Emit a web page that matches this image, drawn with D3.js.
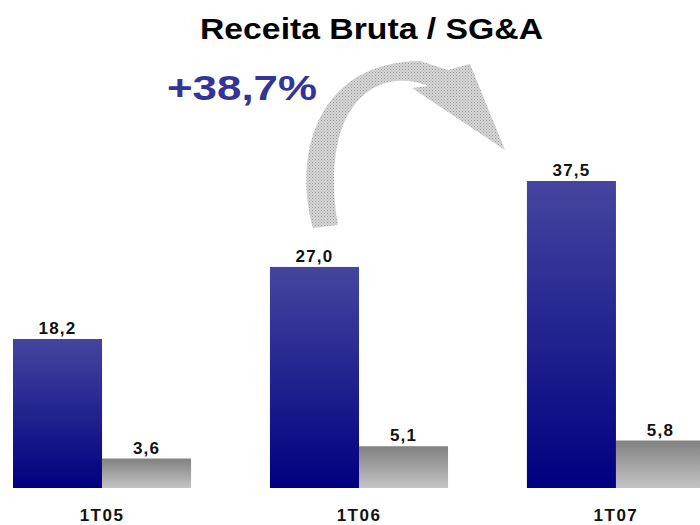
<!DOCTYPE html>
<html>
<head>
<meta charset="utf-8">
<script src="https://cdn.jsdelivr.net/npm/d3@7"></script>
<style>
  body { margin: 0; background: #fff; }
  text { font-family: "Liberation Sans", Arial, sans-serif; font-weight: bold; }
</style>
</head>
<body>
<div id="chart-area"></div>
<script>
// data
var categories = ["1T05", "1T06", "1T07"];
var receita = [18.2, 27.0, 37.5];
var sga = [3.6, 5.1, 5.8];
var growthLabel = "+38,7%";
var title = "Receita Bruta / SG&A";

var fmt = (v) => v.toFixed(1).replace(".", ",");

var svg = d3.select("#chart-area").append("svg")
     .attr("width", 700)
     .attr("height", 525);

var defs = svg.append("defs");

var gBlue = defs.append("linearGradient").attr("id", "blue")
     .attr("x1", 0).attr("y1", 0).attr("x2", 0).attr("y2", 1);
gBlue.append("stop").attr("offset", "0%").attr("stop-color", "#45459f");
gBlue.append("stop").attr("offset", "100%").attr("stop-color", "#000080");

var gGray = defs.append("linearGradient").attr("id", "gray")
     .attr("x1", 0).attr("y1", 0).attr("x2", 0).attr("y2", 1);
gGray.append("stop").attr("offset", "0%").attr("stop-color", "#808080");
gGray.append("stop").attr("offset", "100%").attr("stop-color", "#c4c4c4");

var pat = defs.append("pattern").attr("id", "dots")
     .attr("width", 3).attr("height", 3).attr("patternUnits", "userSpaceOnUse");
pat.append("rect").attr("width", 3).attr("height", 3).attr("fill", "#d6d6d6");
pat.append("rect").attr("width", 1).attr("height", 1).attr("fill", "#9a9a9a");
pat.append("rect").attr("x", 1.5).attr("y", 1.5).attr("width", 1).attr("height", 1).attr("fill", "#a8a8a8");

var baseline = 488;

var x0 = d3.scaleBand()
     .domain(categories)
     .range([13, 705])
     .paddingInner(0.307)
     .paddingOuter(0);

var x1 = d3.scaleBand()
     .domain(["receita", "sga"])
     .range([0, x0.bandwidth()]);

var y = d3.scaleLinear()
     .domain([0, 37.5])
     .range([baseline, 181]);

var rows = categories.map((c, i) => ({ cat: c, receita: receita[i], sga: sga[i] }));

var groups = svg.selectAll("g.grp")
     .data(rows)
     .enter()
     .append("g")
     .attr("class", "grp")
     .attr("transform", (d) => "translate(" + x0(d.cat) + ",0)");

var bars = groups.selectAll("rect")
     .data((d) => [{ key: "receita", v: d.receita }, { key: "sga", v: d.sga }])
     .enter();

bars.append("rect")
     .attr("x", (d) => x1(d.key))
     .attr("y", (d) => y(d.v))
     .attr("width", x1.bandwidth())
     .attr("height", (d) => baseline - y(d.v))
     .attr("fill", (d) => d.key == "receita" ? "url(#blue)" : "url(#gray)");

bars.append("text")
     .attr("x", (d) => x1(d.key) + x1.bandwidth() / 2)
     .attr("y", (d) => y(d.v) - 5)
     .attr("text-anchor", "middle")
     .attr("font-size", 17)
     .attr("letter-spacing", 1.2)
     .attr("fill", "#111")
     .text((d) => fmt(d.v));

// category labels
svg.selectAll("text.cat")
     .data(categories)
     .enter()
     .append("text")
     .attr("class", "cat")
     .attr("x", (d) => x0(d) + x0.bandwidth() / 2)
     .attr("y", 521)
     .attr("text-anchor", "middle")
     .attr("font-size", 17)
     .attr("letter-spacing", 1.5)
     .attr("fill", "#111")
     .text((d) => d);

// curved arrow
svg.append("path")
     .attr("d", "M 313,228 C 292,150 320,62 420,61 L 448,70 L 470,64 L 505,150 L 412,88 L 428,86 C 380,66 318,100 338,225 Z")
     .attr("fill", "url(#dots)");

// title
svg.append("text")
     .attr("x", 200)
     .attr("y", 39)
     .attr("font-size", 29)
     .attr("textLength", 343)
     .attr("lengthAdjust", "spacingAndGlyphs")
     .attr("fill", "#000")
     .text(title);

svg.append("text")
     .attr("x", 167)
     .attr("y", 100)
     .attr("font-size", 35)
     .attr("textLength", 150)
     .attr("lengthAdjust", "spacingAndGlyphs")
     .attr("fill", "#333399")
     .text(growthLabel);
</script>
</body>
</html>
